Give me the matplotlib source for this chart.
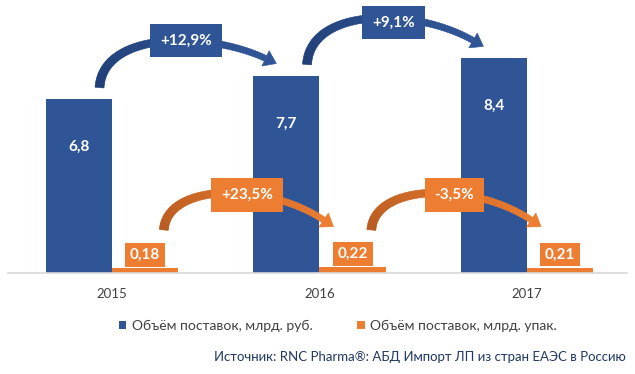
import numpy as np
import matplotlib
matplotlib.use('Agg')
import matplotlib.pyplot as plt
from matplotlib.patches import Polygon
from matplotlib.transforms import IdentityTransform
from matplotlib.colors import to_rgb

# data
years = ['2015', '2016', '2017']
rub = [6.8, 7.7, 8.4]          # млрд. руб.
packs = [0.18, 0.22, 0.21]     # млрд. упак.
rub_growth = ['+12,9%', '+9,1%']
packs_growth = ['+23,5%', '-3,5%']

BLUE = '#2F5597'
BLUE_DARK = '#1E3C75'
ORANGE = '#ED7D31'
ORANGE_DARK = '#B8591C'

plt.rcParams['font.family'] = ['Lato', 'DejaVu Sans']

fig = plt.figure(figsize=(6.35, 3.74), dpi=100)
ax = fig.add_axes([8 / 635, 1 - 273 / 374, 619 / 635, 273 / 374])

x = np.arange(len(years))
w = 0.32
ax.bar(x - w / 2, rub, w, color=BLUE, label='Объём поставок, млрд. руб.', zorder=2)
ax.bar(x + w / 2, packs, w, color=ORANGE, label='Объём поставок, млрд. упак.', zorder=2)

ax.set_xlim(-0.501, 2.482)
ax.set_ylim(0, 10.66)
ax.set_xticks(x)
ax.set_xticklabels(years)
ax.tick_params(axis='x', length=0, pad=11, labelsize=9.5, labelcolor='#404040')
ax.set_yticks([])
for s in ['top', 'left', 'right']:
    ax.spines[s].set_visible(False)
ax.spines['bottom'].set_color('#D9D9D9')
ax.spines['bottom'].set_linewidth(1.2)

# value labels
for xi, v in zip(x, rub):
    ax.text(xi - w / 2, v - 1.88, f'{v:.1f}'.replace('.', ','), ha='center', va='center',
            color='white', fontsize=11, fontweight='bold', zorder=3)
for xi, v in zip(x, packs):
    ax.text(xi + w / 2, v + 0.52, f'{v:.2f}'.replace('.', ','), ha='center', va='center',
            color='white', fontsize=11, fontweight='bold', zorder=3,
            bbox=dict(boxstyle='square,pad=0.3', fc=ORANGE, ec='none'))


def bezier(p0, p1, p2, p3, t):
    t = t[:, None]
    return (1 - t) ** 3 * p0 + 3 * (1 - t) ** 2 * t * p1 + 3 * (1 - t) * t ** 2 * p2 + t ** 3 * p3


def curved_arrow(start, end, lift, c0, c1, w0=9, w1=6, hw=17, hl=12):
    # start/end in data coords, the curve itself is built in pixels
    p0 = ax.transData.transform(start)
    p3 = ax.transData.transform(end)
    dx = p3[0] - p0[0]
    peak = p0[1] + lift
    h = (peak - (p0[1] + p3[1]) / 8) / 0.75
    p1 = np.array([p0[0] + 0.02 * dx, h])
    p2 = np.array([p0[0] + 0.65 * dx, h])
    t = np.linspace(0, 1, 80)
    pts = bezier(p0, p1, p2, p3, t)
    tan = np.gradient(pts, axis=0)
    tan /= np.linalg.norm(tan, axis=1)[:, None]
    nrm = np.column_stack([-tan[:, 1], tan[:, 0]])
    wid = (w0 + (w1 - w0) * t)[:, None] / 2
    ca, cb = np.array(to_rgb(c0)), np.array(to_rgb(c1))
    for k in range(len(t) - 1):
        quad = [pts[k] + nrm[k] * wid[k], pts[k + 1] + nrm[k + 1] * wid[k + 1],
                pts[k + 1] - nrm[k + 1] * wid[k + 1], pts[k] - nrm[k] * wid[k]]
        col = ca + (cb - ca) * t[k]
        ax.add_patch(Polygon(quad, closed=True, fc=col, ec=col, lw=0.4,
                             transform=IdentityTransform(), clip_on=False, zorder=4))
    d = (p3 - p2) / np.linalg.norm(p3 - p2)
    n = np.array([-d[1], d[0]])
    head = [p3 + n * hw / 2, p3 + d * hl, p3 - n * hw / 2]
    ax.add_patch(Polygon(head, closed=True, fc=c1, ec=c1, lw=0.4,
                         transform=IdentityTransform(), clip_on=False, zorder=4))
    return start[0] + 0.52 * (end[0] - start[0])


for i, g in enumerate(rub_growth):
    lx = curved_arrow((i - 0.06, rub[i] + 0.44), (i + 0.74, rub[i + 1] + 0.68),
                      46, BLUE_DARK, BLUE)
    ax.text(lx, rub[i + 1] + 1.38, g, ha='center', va='center', color='white', fontsize=11,
            fontweight='bold', zorder=5,
            bbox=dict(boxstyle='square,pad=0.65', fc=BLUE, ec='none'))

for i, g in enumerate(packs_growth):
    lx = curved_arrow((i + 0.25, 1.68), (i + 1.02, 2.07),
                      37, ORANGE_DARK, ORANGE)
    ax.text(lx, 3.05, g, ha='center', va='center', color='white', fontsize=11,
            fontweight='bold', zorder=5,
            bbox=dict(boxstyle='square,pad=0.65', fc=ORANGE, ec='none'))

fig.legend(loc='center', bbox_to_anchor=(338 / 635, 1 - 326 / 374), ncol=2, frameon=False,
           handlelength=0.55, handleheight=0.55, handletextpad=0.4, columnspacing=3.2,
           fontsize=10, labelcolor='#404040')

fig.text(626 / 635, 1 - 357 / 374, 'Источник: RNC Pharma®: АБД Импорт ЛП из стран ЕАЭС в Россию',
         ha='right', va='center', fontsize=9.5, color='#203864')

fig.savefig('out.png', dpi=100)
